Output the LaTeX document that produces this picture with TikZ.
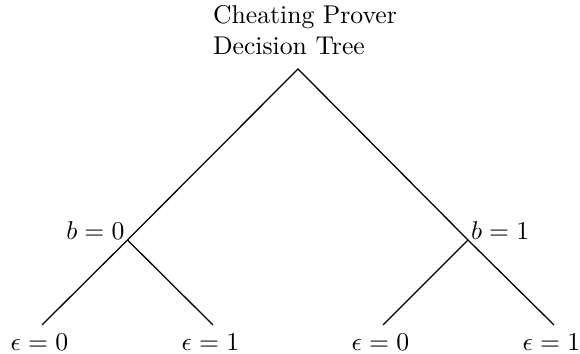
\documentclass[tikz,border=0pt]{standalone}
\begin{document}
\begin{tikzpicture}[x=0.01368cm,y=-0.01368cm,
  lbl/.style={inner sep=1pt},
  leaf/.style={anchor=north,xshift=-1pt},
  edge/.style={draw=black,line width=0.5pt}]
\useasboundingbox (0,0) rectangle (580,354);
\node[align=left,anchor=south west](title) at (204,64){Cheating Prover\\Decision Tree};
\coordinate (root) at (298,69);
\coordinate (b0) at (127.5,240); \coordinate (b1) at (468,240);
\coordinate (l00) at (42,325); \coordinate (l01) at (213,325);
\coordinate (l10) at (383,325); \coordinate (l11) at (554,325);
\draw[edge](b0)--(root)--(b1);
\foreach \p/\c in {b0/l00,b0/l01,b1/l10,b1/l11} \draw[edge](\p)--(\c);
\node[lbl,anchor=base east](tb0) at (b0){$b=0$};
\node[lbl,anchor=base west](tb1) at (b1){$b=1$};
\node[leaf](t00) at (l00){$\epsilon=0$};
\node[leaf](t01) at (l01){$\epsilon=1$};
\node[leaf](t10) at (l10){$\epsilon=0$};
\node[leaf](t11) at (l11){$\epsilon=1$};
\end{tikzpicture}
\end{document}
